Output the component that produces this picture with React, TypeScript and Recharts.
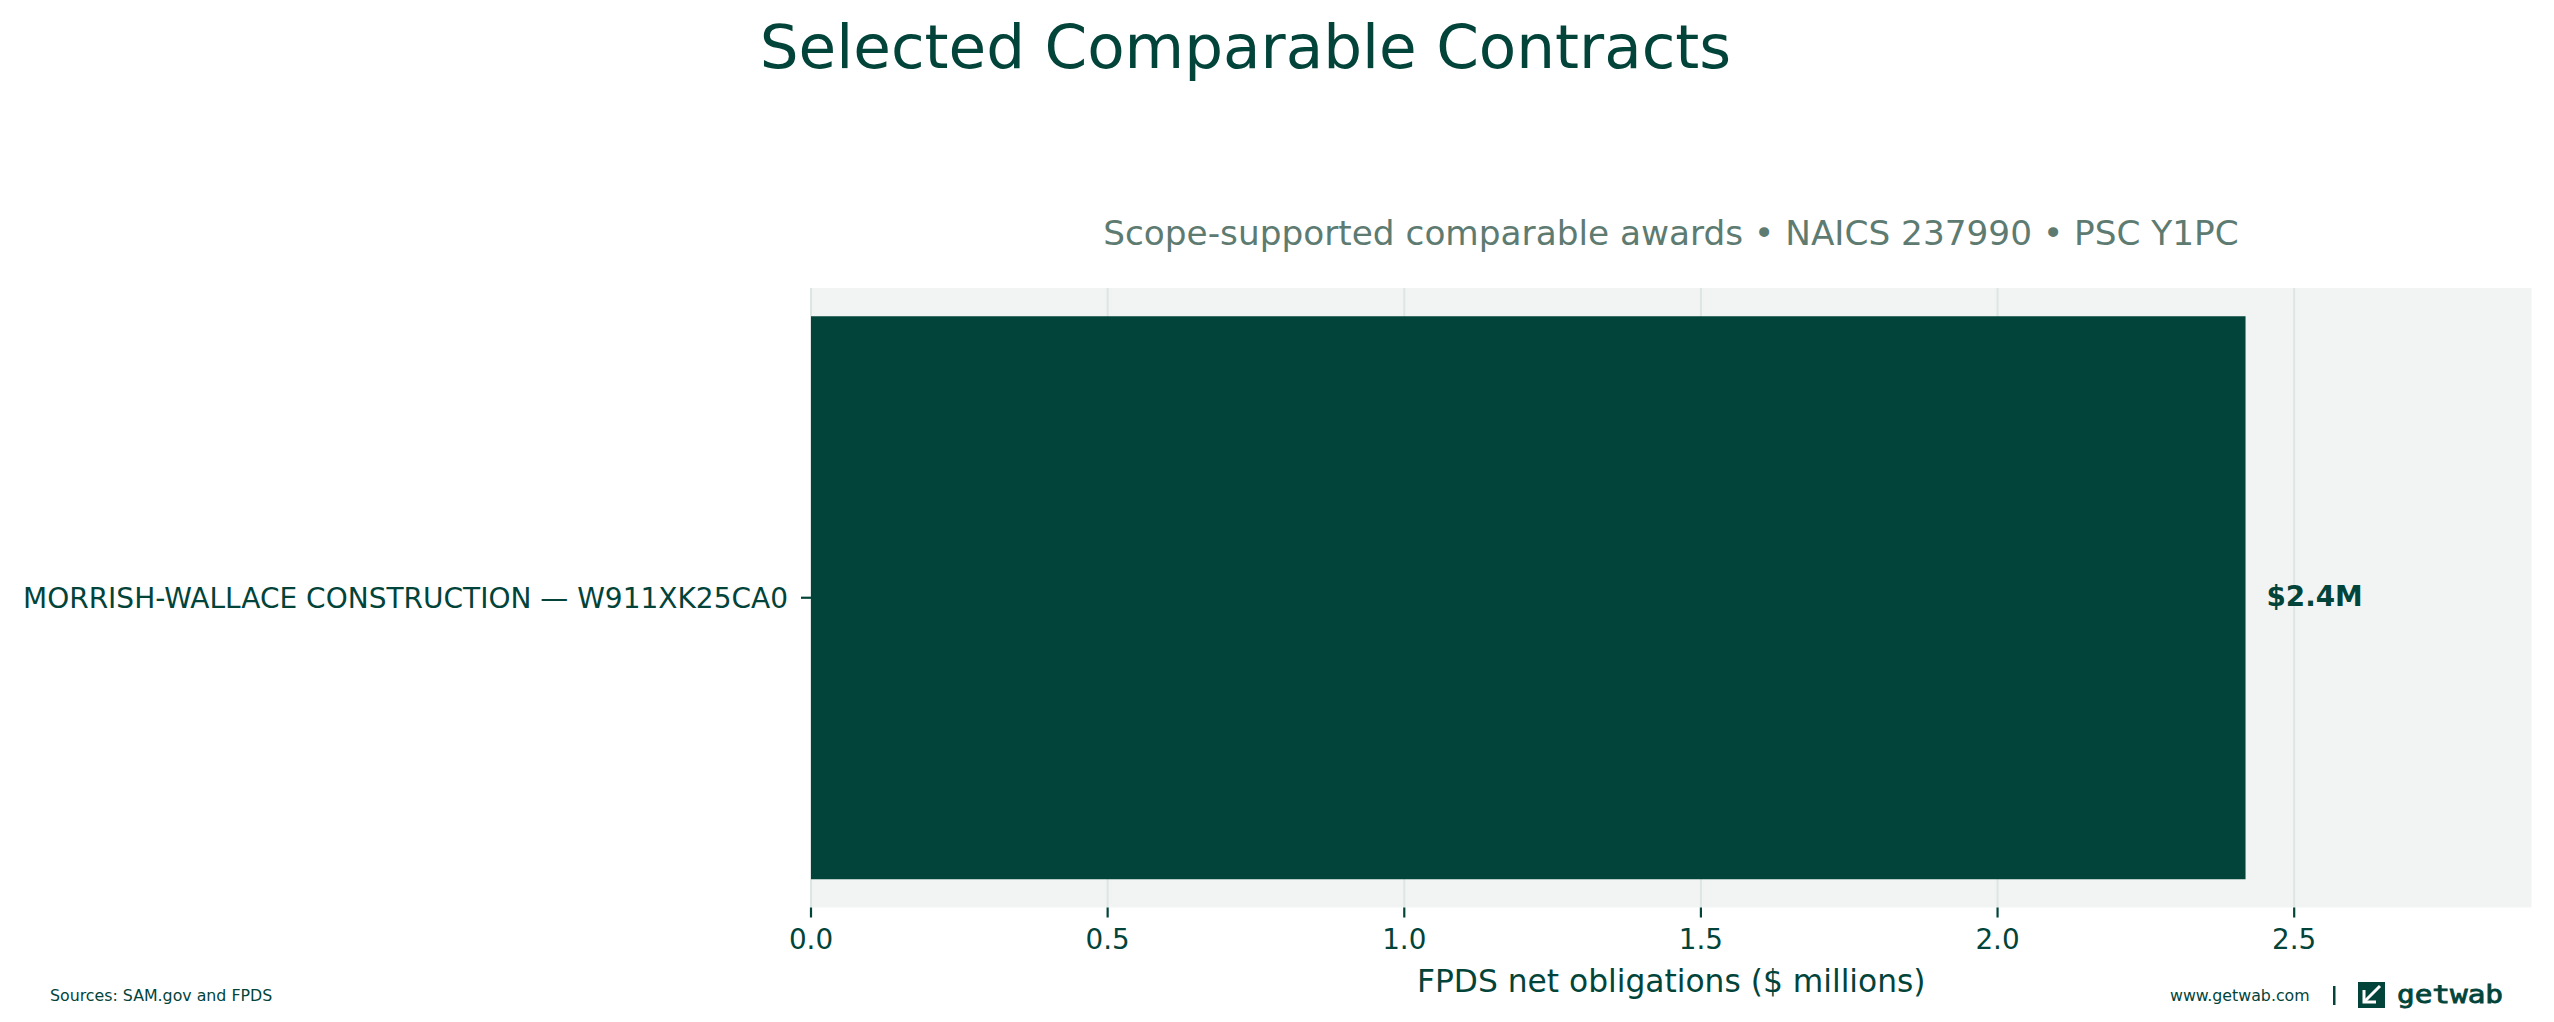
import { BarChart, Bar, XAxis, YAxis, CartesianGrid, LabelList, Label } from "recharts";

// contract labels and FPDS net obligations ($ millions)
const CONTRACTS = ["MORRISH-WALLACE CONSTRUCTION — W911XK25CA0"];
const OBLIGATIONS = [2.418];
const X_TICKS = [0, 0.5, 1.0, 1.5, 2.0, 2.5];
const X_MAX = 2.9;

const DARK = "#02443a";
const MUTED = "#5e7b71";
const FONT = "'DejaVu Sans', sans-serif";

const data = CONTRACTS.map((name, i) => ({ name, value: OBLIGATIONS[i] }));

function ContractTick({ x, y, payload }: any) {
  return (
    <text
      x={x}
      y={y}
      dy="0.36em"
      textAnchor="end"
      fill={DARK}
      fontSize={28}
      fontFamily={FONT}
    >
      {payload.value}
    </text>
  );
}

// gridlines only at the labelled ticks, none at the right edge
const gridAtTicks = ({ xAxis, offset }: any) => {
  const s = xAxis?.scale;
  if (typeof s === "function") return X_TICKS.map((t) => s(t));
  if (s && typeof s.map === "function") return X_TICKS.map((t) => s.map(t));
  return X_TICKS.map((t) => offset.left + (t / X_MAX) * offset.width);
};

export default function App() {
  return (
    <div
      style={{
        position: "absolute",
        left: 0,
        top: 0,
        width: 2554,
        height: 1022,
        background: "#ffffff",
      }}
    >
      <BarChart
        width={2554}
        height={1022}
        data={data}
        layout="vertical"
        margin={{ top: 288, right: 22.5, bottom: 0, left: 0 }}
        barCategoryGap="4.56%"
      >
        <CartesianGrid
          horizontal={false}
          vertical
          verticalCoordinatesGenerator={gridAtTicks}
          fill="#f2f4f3"
          fillOpacity={1}
          stroke="#dde6e2"
          strokeWidth={2}
        />
        <XAxis
          type="number"
          domain={[0, X_MAX]}
          ticks={X_TICKS}
          allowDataOverflow
          height={114.5}
          axisLine={false}
          tickSize={10}
          tickMargin={12}
          tickLine={{ stroke: DARK, strokeWidth: 2.2 }}
          tick={{ fill: DARK, fontSize: 27.8, fontFamily: FONT }}
          tickFormatter={(v: number) => v.toFixed(1)}
        >
          <Label
            value="FPDS net obligations ($ millions)"
            position="insideBottom"
            offset={30}
            fill={DARK}
            fontSize={31.3}
            fontFamily={FONT}
          />
        </XAxis>
        <YAxis
          type="category"
          dataKey="name"
          width={811}
          axisLine={false}
          tickSize={10}
          tickMargin={13}
          tickLine={{ stroke: DARK, strokeWidth: 2.2 }}
          tick={<ContractTick />}
        />
        <Bar dataKey="value" fill={DARK} isAnimationActive={false}>
          <LabelList
            dataKey="value"
            position="right"
            offset={21}
            formatter={(v: any) => `$${Number(v).toFixed(1)}M`}
            fill={DARK}
            fontSize={27.8}
            fontWeight="bold"
            fontFamily={FONT}
            dy={-2}
          />
        </Bar>
      </BarChart>

      <svg
        width={2554}
        height={1022}
        style={{ position: "absolute", left: 0, top: 0, pointerEvents: "none" }}
      >
        <text x={1245.5} y={68} textAnchor="middle" fill={DARK} fontSize={61.2} fontFamily={FONT}>
          Selected Comparable Contracts
        </text>
        <text x={1671} y={245} textAnchor="middle" fill={MUTED} fontSize={34.3} fontFamily={FONT}>
          Scope-supported comparable awards • NAICS 237990 • PSC Y1PC
        </text>

        {/* footer */}
        <text x={50} y={1001} fill={DARK} fontSize={15.8} fontFamily={FONT}>
          Sources: SAM.gov and FPDS
        </text>
        <text x={2170} y={1001} fill={DARK} fontSize={15.8} fontFamily={FONT}>
          www.getwab.com
        </text>
        <rect x={2333} y={986} width={2.5} height={19} fill={DARK} />
        <rect x={2358} y={982} width={27} height={26} fill={DARK} />
        <polyline
          points="2380,986 2365,1001"
          stroke="#ffffff"
          strokeWidth={3}
          fill="none"
        />
        <polyline
          points="2364,990 2364,1002 2376,1002"
          stroke="#ffffff"
          strokeWidth={3}
          fill="none"
        />
        <text
          x={2397}
          y={1003}
          fill={DARK}
          stroke={DARK}
          strokeWidth={0.8}
          fontSize={24}
          fontFamily="'DejaVu Sans Mono', monospace"
          textLength={106}
          lengthAdjust="spacingAndGlyphs"
        >
          getwab
        </text>
      </svg>
    </div>
  );
}
